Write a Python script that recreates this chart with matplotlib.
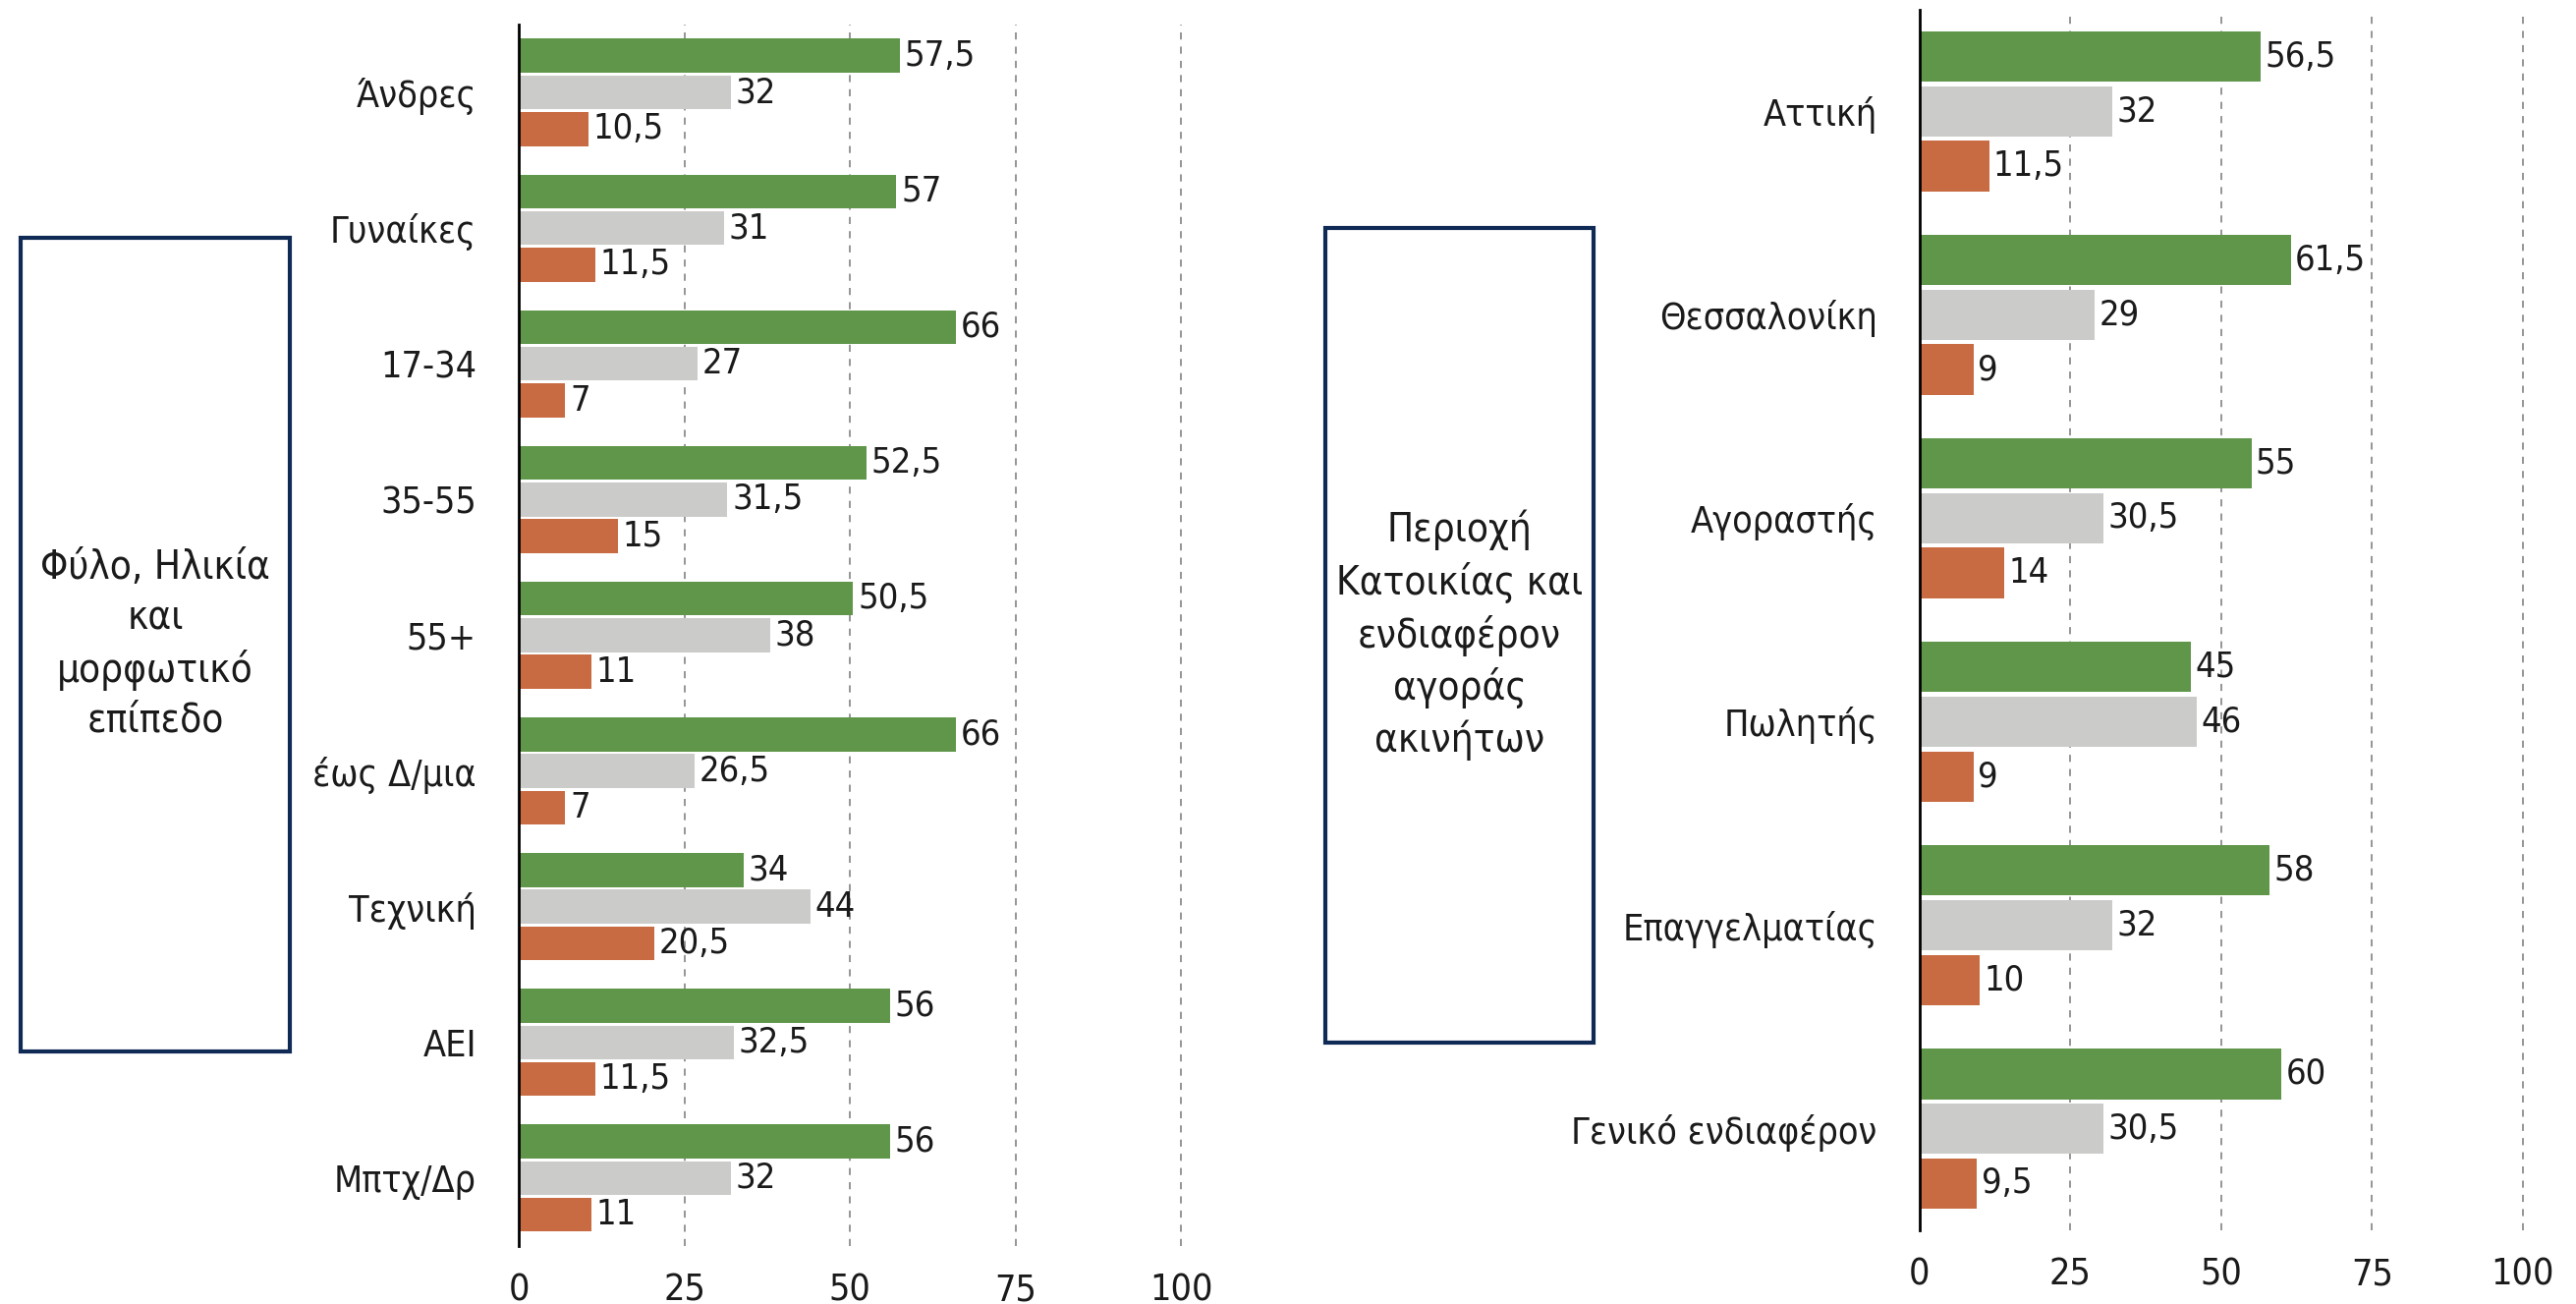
import matplotlib.pyplot as plt
from matplotlib.patches import Rectangle
import numpy as np

# Δεδομένα αριστερού γραφήματος
cat_left = ['Άνδρες', 'Γυναίκες', '17-34', '35-55', '55+',
            'έως Δ/μια', 'Τεχνική', 'ΑΕΙ', 'Μπτχ/Δρ']
green_left = [57.5, 57, 66, 52.5, 50.5, 66, 34, 56, 56]
gray_left = [32, 31, 27, 31.5, 38, 26.5, 44, 32.5, 32]
orange_left = [10.5, 11.5, 7, 15, 11, 7, 20.5, 11.5, 11]

# Δεδομένα δεξιού γραφήματος
cat_right = ['Αττική', 'Θεσσαλονίκη', 'Αγοραστής', 'Πωλητής',
             'Επαγγελματίας', 'Γενικό ενδιαφέρον']
green_right = [56.5, 61.5, 55, 45, 58, 60]
gray_right = [32, 29, 30.5, 46, 32, 30.5]
orange_right = [11.5, 9, 14, 9, 10, 9.5]

x_ticks = [0, 25, 50, 75, 100]

box_left = 'Φύλο, Ηλικία\nκαι\nμορφωτικό\nεπίπεδο'
box_right = 'Περιοχή\nΚατοικίας και\nενδιαφέρον\nαγοράς\nακινήτων'

GREEN = '#5f964a'
GRAY = '#cbcbc9'
ORANGE = '#c86b42'
NAVY = '#102a56'

plt.rcParams['font.family'] = ['DejaVu Sans']
plt.rcParams['font.stretch'] = 'condensed'
FS_TICK = 27
FS_VAL = 26
FS_BOX = 29

fig = plt.figure(figsize=(26.22, 13.27), dpi=100)


def fmt(v):
    s = f'{v:g}'
    return s.replace('.', ',')


def dibujar(ax, cats, g, gr, o):
    y = np.arange(len(cats))
    step = 0.27
    h = 0.25
    for vals, off, col in [(g, -step, GREEN), (gr, 0, GRAY), (o, step, ORANGE)]:
        bars = ax.barh(y + off, vals, height=h, color=col, zorder=3)
        for b, v in zip(bars, vals):
            ax.text(b.get_width() + 0.7, b.get_y() + b.get_height() / 2, fmt(v),
                    va='center', ha='left', fontsize=FS_VAL, color='#1a1a1a', zorder=4)
    ax.set_ylim(len(cats) - 0.5, -0.5)
    ax.set_xlim(0, 100)
    ax.set_yticks(y)
    ax.set_yticklabels(cats, fontsize=FS_TICK, color='#1a1a1a')
    ax.set_xticks(x_ticks)
    ax.set_xticklabels([str(t) for t in x_ticks], fontsize=FS_TICK, color='#1a1a1a')
    ax.tick_params(axis='y', length=0, pad=31)
    ax.tick_params(axis='x', length=0, pad=20)
    for s in ['top', 'right', 'bottom']:
        ax.spines[s].set_visible(False)
    ax.spines['left'].set_color('black')
    ax.spines['left'].set_linewidth(2)
    ax.spines['left'].set_zorder(5)
    for t in x_ticks[1:]:
        ax.axvline(t, color='#8c8c8c', linestyle=(0, (4, 4)), linewidth=1.3,
                   zorder=1, clip_on=False)


ax1 = fig.add_axes([0.2014, 0.0445, 0.2571, 0.9367])
dibujar(ax1, cat_left, green_left, gray_left, orange_left)

ax2 = fig.add_axes([0.7452, 0.0565, 0.2342, 0.936])
dibujar(ax2, cat_right, green_right, gray_right, orange_right)

# Πλαίσια με τίτλους
for (x0, y0, w, h), txt in [((0.008, 0.1937, 0.1045, 0.6239), box_left),
                            ((0.5145, 0.2005, 0.1041, 0.6247), box_right)]:
    fig.patches.append(Rectangle((x0, y0), w, h, transform=fig.transFigure,
                                 fill=False, edgecolor=NAVY, linewidth=3))
    fig.text(x0 + w / 2, y0 + h / 2, txt, ha='center', va='center',
             fontsize=FS_BOX, color='#1a1a1a', linespacing=1.35)

fig.savefig('out.png', dpi=100)
